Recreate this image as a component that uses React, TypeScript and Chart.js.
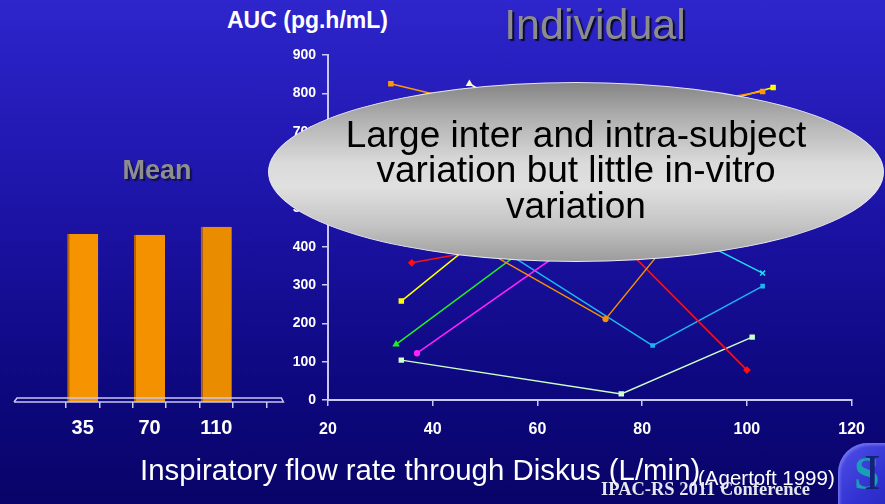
import React, { useEffect, useRef } from "react";
import { Chart, registerables } from "chart.js";

Chart.register(...registerables);

// ---- Left panel: mean AUC per nominal flow ----
const meanFlowLabels = ["35", "70", "110"];
const meanAuc = [438, 436, 457];

// ---- Right panel: individual subjects (flow L/min, AUC pg.h/mL) ----
const orangeSqFlow = [32, 65, 103];
const orangeSqAuc = [825, 716, 805];
const orangeCircFlow = [35, 73, 100];
const orangeCircAuc = [506, 211, 664];
const yellowFlow = [34, 74, 105];
const yellowAuc = [258, 700, 815];
const redFlow = [36, 73, 100];
const redAuc = [358, 449, 78];
const greenFlow = [33, 70, 102];
const greenAuc = [145, 520, 600];
const magentaFlow = [37, 72, 103];
const magentaAuc = [122, 457, 520];
const paleGreenFlow = [34, 76, 101];
const paleGreenAuc = [104, 16, 164];
const skyFlow = [35, 82, 103];
const skyAuc = [550, 142, 297];
const cyanFlow = [36, 78, 103];
const cyanAuc = [640, 505, 331];
const creamFlow = [47, 80, 98];
const creamAuc = [825, 560, 620];

const xTickValues = [20, 40, 60, 80, 100, 120];
const yTickValues = [0, 100, 200, 300, 400, 500, 600, 700, 800, 900];

const AXIS = "#c8c8f0";
const FONT = "'Liberation Sans', Arial, Helvetica, sans-serif";

const pts = (xs: number[], ys: number[]) => xs.map((x, i) => ({ x, y: ys[i] }));

const platePlugin = {
  id: "plate",
  afterDraw(chart: any) {
    const { ctx, chartArea } = chart;
    const b = chartArea.bottom;
    const l = chartArea.left - 52;
    const r = chartArea.right + 17;
    ctx.save();
    ctx.strokeStyle = AXIS;
    ctx.lineWidth = 1.5;
    ctx.beginPath();
    ctx.moveTo(l, b);
    ctx.lineTo(r, b);
    ctx.lineTo(r - 2, b - 4);
    ctx.lineTo(l + 3, b - 4);
    ctx.lineTo(l, b);
    ctx.stroke();
    ctx.restore();
  },
};

function MeanChart() {
  const ref = useRef<HTMLCanvasElement>(null);
  useEffect(() => {
    const labels = meanFlowLabels.flatMap((l) => [l, ""]);
    const values = meanAuc.flatMap((v) => [v, null]);
    const chart = new Chart(ref.current!, {
      type: "bar",
      data: {
        labels,
        datasets: [
          {
            data: values as any,
            backgroundColor: ["#f59300", "#f59300", "#f39100", "#f39100", "#ea8c00", "#ea8c00"],
            borderColor: "#b86400",
            borderWidth: { left: 2, right: 0, top: 0, bottom: 0 } as any,
            borderSkipped: false,
            categoryPercentage: 1,
            barPercentage: 0.93,
          },
        ],
      },
      options: {
        animation: false,
        responsive: false,
        layout: { padding: { left: 66, right: 33.6, top: 17, bottom: 0 } },
        plugins: { legend: { display: false }, tooltip: { enabled: false } },
        scales: {
          x: {
            offset: true,
            grid: { offset: true, drawOnChartArea: false, tickLength: 6, color: AXIS, lineWidth: 1.5 },
            border: { display: false },
            ticks: {
              color: "#ffffff",
              font: { family: FONT, size: 20, weight: "bold" },
              padding: 8,
              autoSkip: false,
              maxRotation: 0,
            },
            afterFit: (s: any) => {
              s.height = 58;
            },
          },
          y: { display: false, min: 0, max: 900 },
        },
      },
      plugins: [platePlugin],
    });
    return () => chart.destroy();
  }, []);
  return (
    <canvas
      ref={ref}
      width={300}
      height={420}
      style={{ position: "absolute", left: 0, top: 40, width: 300, height: 420 }}
    />
  );
}

function IndividualChart() {
  const ref = useRef<HTMLCanvasElement>(null);
  useEffect(() => {
    const mk = (label: string, xs: number[], ys: number[], color: string, style: string, r = 2.8) => ({
      label,
      data: pts(xs, ys),
      borderColor: color,
      backgroundColor: color,
      borderWidth: 1.5,
      pointStyle: style,
      pointRadius: r,
      pointBorderColor: color,
      pointBackgroundColor: color,
      tension: 0,
    });
    const chart = new Chart(ref.current!, {
      type: "line",
      data: {
        datasets: [
          mk("A", orangeSqFlow, orangeSqAuc, "#ff9900", "rect"),
          mk("B", orangeCircFlow, orangeCircAuc, "#f59000", "circle", 2.4),
          mk("C", yellowFlow, yellowAuc, "#ffff00", "rect"),
          mk("D", redFlow, redAuc, "#ff1010", "rectRot"),
          mk("E", greenFlow, greenAuc, "#22ee22", "triangle"),
          mk("F", magentaFlow, magentaAuc, "#ff22ff", "circle", 2.4),
          mk("G", paleGreenFlow, paleGreenAuc, "#ccffcc", "rect"),
          mk("H", skyFlow, skyAuc, "#1eb4f0", "rect", 2.2),
          mk("I", cyanFlow, cyanAuc, "#22dcf5", "crossRot", 3.5),
          mk("J", creamFlow, creamAuc, "#ffffcc", "triangle"),
        ] as any,
      },
      options: {
        animation: false,
        responsive: false,
        layout: { padding: { left: 0, right: 24, top: 15, bottom: 0 } },
        plugins: { legend: { display: false }, tooltip: { enabled: false } },
        scales: {
          x: {
            type: "linear",
            min: 20,
            max: 120,
            afterBuildTicks: (s: any) => {
              s.ticks = xTickValues.map((v) => ({ value: v }));
            },
            grid: { drawOnChartArea: false, tickLength: 6, color: AXIS, lineWidth: 1.5 },
            border: { color: AXIS, width: 2 },
            ticks: {
              color: "#ffffff",
              font: { family: FONT, size: 16, weight: "bold" },
              padding: 14,
              maxRotation: 0,
            },
            afterFit: (s: any) => {
              s.height = 60;
            },
          },
          y: {
            min: 0,
            max: 900,
            afterBuildTicks: (s: any) => {
              s.ticks = yTickValues.map((v) => ({ value: v }));
            },
            grid: { drawOnChartArea: false, tickLength: 6, color: AXIS, lineWidth: 1.5 },
            border: { color: AXIS, width: 2 },
            ticks: {
              color: "#ffffff",
              font: { family: FONT, size: 14, weight: "bold" },
              padding: 6,
            },
            afterFit: (s: any) => {
              s.width = 48;
            },
          },
        },
      },
    });
    return () => chart.destroy();
  }, []);
  return (
    <canvas
      ref={ref}
      width={599}
      height={420}
      style={{ position: "absolute", left: 280, top: 40, width: 599, height: 420 }}
    />
  );
}

export default function App() {
  const abs = (s: React.CSSProperties): React.CSSProperties => ({
    position: "absolute",
    whiteSpace: "nowrap",
    margin: 0,
    ...s,
  });
  return (
    <div
      style={{
        position: "fixed",
        left: 0,
        top: 0,
        width: 885,
        height: 504,
        overflow: "hidden",
        background: "linear-gradient(to bottom, #2e25cc 0%, #1d14a8 40%, #0e0880 75%, #080468 100%)",
        fontFamily: FONT,
      }}
    >
      <MeanChart />
      <IndividualChart />

      <div
        style={abs({
          left: 0,
          width: 314,
          top: 157,
          textAlign: "center",
          fontSize: 27,
          lineHeight: "27px",
          fontWeight: "bold",
          color: "#8e8e8e",
          textShadow: "2px 2px 1px #10104a",
        })}
      >
        Mean
      </div>

      <div
        style={abs({
          left: 227,
          top: 8.5,
          fontSize: 23,
          lineHeight: "23px",
          fontWeight: "bold",
          color: "#ffffff",
        })}
      >
        AUC (pg.h/mL)
      </div>

      <div
        style={abs({
          left: 395,
          width: 400,
          top: 2.5,
          textAlign: "center",
          fontSize: 43,
          lineHeight: "43px",
          color: "#8c8c8c",
          textShadow: "2px 2px 1px #0a0a30",
        })}
      >
        Individual
      </div>

      <div
        style={{
          position: "absolute",
          left: 268,
          top: 82,
          width: 616,
          height: 180,
          borderRadius: "50%",
          boxSizing: "border-box",
          border: "1.5px solid #e8e8f4",
          background:
            "linear-gradient(to bottom, #858585 0%, #b4b4b4 22%, #dadada 45%, #e0e0e0 58%, #c4c4c4 80%, #9c9c9c 100%)",
        }}
      />
      <div
        style={{
          position: "absolute",
          left: 268,
          width: 616,
          top: 116.7,
          textAlign: "center",
          fontSize: 37,
          lineHeight: "35.5px",
          color: "#000000",
        }}
      >
        Large inter and intra-subject
        <br />
        variation but little in-vitro
        <br />
        variation
      </div>

      <div
        style={abs({
          left: 140,
          top: 455,
          fontSize: 29.4,
          lineHeight: "29.4px",
          color: "#ffffff",
        })}
      >
        Inspiratory flow rate through Diskus (L/min)
      </div>
      <div
        style={abs({
          left: 698,
          top: 468,
          fontSize: 20.5,
          lineHeight: "20.5px",
          color: "#ffffff",
        })}
      >
        (Agertoft 1999)
      </div>

      <div
        style={{
          position: "absolute",
          left: 838,
          top: 443,
          width: 80,
          height: 80,
          borderTopLeftRadius: 30,
          background: "linear-gradient(135deg, #5050e8 0%, #3030d0 50%, #2020b0 100%)",
          boxShadow: "inset 2px 2px 3px #7070f0",
        }}
      >
        <span
          style={{
            position: "absolute",
            left: 16,
            top: 8,
            fontFamily: "'Liberation Serif', serif",
            fontSize: 46,
            lineHeight: "46px",
            color: "#1aa0b4",
            fontWeight: "bold",
          }}
        >
          S
        </span>
        <span
          style={{
            position: "absolute",
            left: 26,
            top: 4,
            fontFamily: "'Liberation Serif', serif",
            fontSize: 50,
            lineHeight: "50px",
            color: "#14207a",
          }}
        >
          I
        </span>
      </div>

      <div
        style={abs({
          left: 601,
          top: 480,
          fontFamily: "'Liberation Serif', 'Times New Roman', serif",
          fontWeight: "bold",
          fontSize: 18.5,
          lineHeight: "18.5px",
          color: "#e6e6f0",
        })}
      >
        IPAC-RS 2011 Conference
      </div>
    </div>
  );
}
